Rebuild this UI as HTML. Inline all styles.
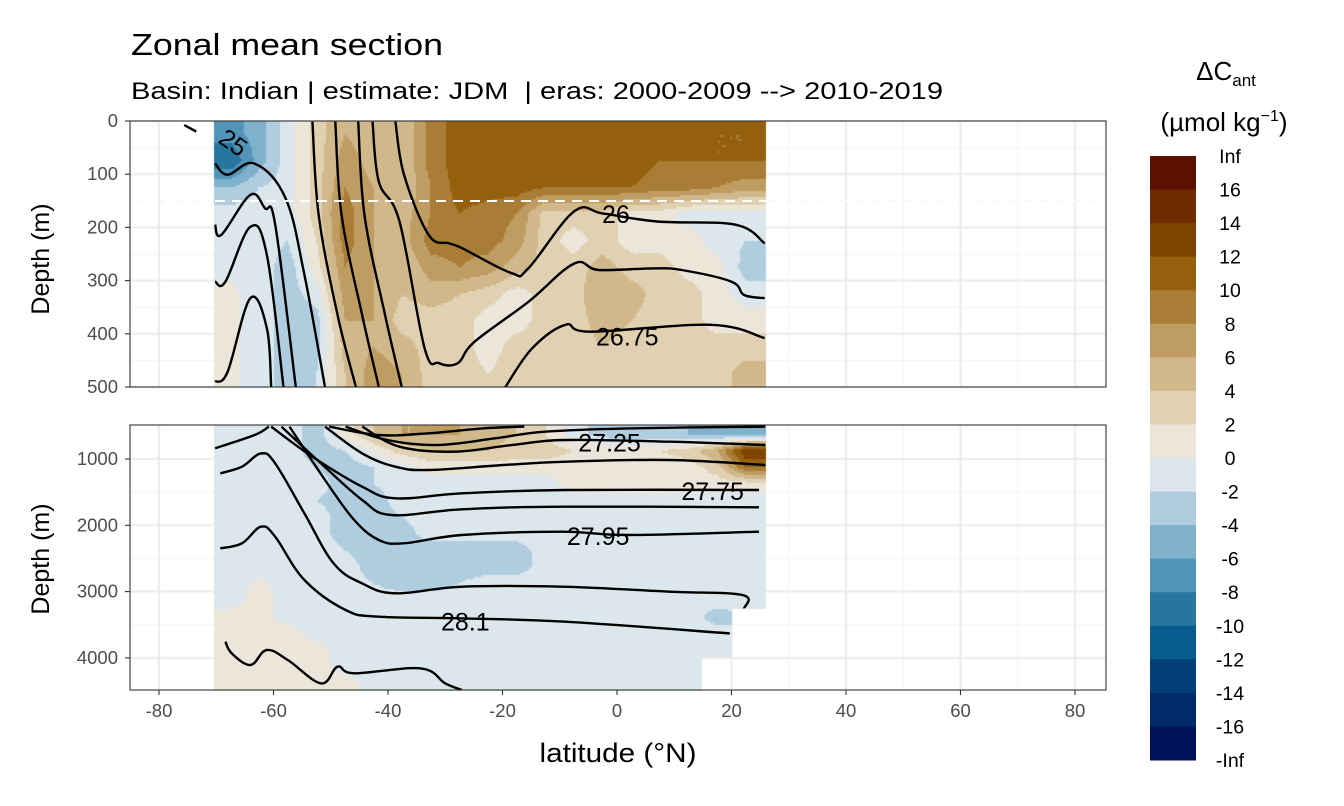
<!DOCTYPE html>
<html><head><meta charset="utf-8">
<style>
html,body{margin:0;padding:0;background:#fff;}
#wrap{position:relative;width:1344px;height:806px;overflow:hidden;font-family:"Liberation Sans",sans-serif;}
#heat{position:absolute;left:0;top:0;}
#svg{position:absolute;left:0;top:0;}
</style></head>
<body>
<div id="wrap">
<canvas id="heat" width="1344" height="806"></canvas>
<svg id="svg" width="1344" height="806" xmlns="http://www.w3.org/2000/svg">
  <defs>
    <clipPath id="clipTop"><rect x="130" y="121" width="976" height="266"/></clipPath>
    <clipPath id="clipBot"><rect x="130" y="425" width="976" height="265"/></clipPath>
  </defs>
  <text x="131" y="55" font-size="31" textLength="312" lengthAdjust="spacingAndGlyphs" fill="#000">Zonal mean section</text>
  <text x="131" y="99" font-size="24" textLength="812" lengthAdjust="spacingAndGlyphs" fill="#000" xml:space="preserve">Basin: Indian | estimate: JDM  | eras: 2000-2009 --&gt; 2010-2019</text>
  <g id="contTop" clip-path="url(#clipTop)"></g>
  <g id="contBot" clip-path="url(#clipBot)"></g>
  <line x1="130" x2="1106" y1="201" y2="201" stroke="#fff" stroke-width="2" stroke-dasharray="10,7"/>
  <rect x="130" y="121" width="976" height="266" fill="none" stroke="#333" stroke-width="1.1"/>
  <rect x="130" y="425" width="976" height="265" fill="none" stroke="#333" stroke-width="1.1"/>
  <g id="axes"></g>
  <text transform="translate(49,259) rotate(-90)" text-anchor="middle" font-size="25">Depth (m)</text>
  <text transform="translate(49,559) rotate(-90)" text-anchor="middle" font-size="25">Depth (m)</text>
  <text x="618" y="762" text-anchor="middle" font-size="27" textLength="157" lengthAdjust="spacingAndGlyphs">latitude (°N)</text>
  <text x="1226" y="80" text-anchor="middle" font-size="26">ΔC<tspan font-size="17" dy="6">ant</tspan></text>
  <text x="1224" y="131" text-anchor="middle" font-size="26">(µmol kg<tspan font-size="16" dy="-10">−1</tspan><tspan dy="10">)</tspan></text>
  <g id="legend"></g>
</svg>
</div>
<script>
// ---- data ----
const colCenters = [-67.5,-62.5,-57.5,-52.5,-47.5,-42.5,-37.5,-32.5,-27.5,-22.5,-17.5,-12.5,-7.5,-2.5,2.5,7.5,12.5,17.5,22.5];
const topDepths = [25,75,125,175,225,275,325,375,425,475];
const botDepths = [625,875,1125,1375,1625,1875,2125,2375,2625,2875,3125,3375,3625,3875,4125,4375];
const topCols = [
 [-7,-10,-4,-1,-1,-0.5,0.5,0.5,0.5,0.5],
 [-5,-5,-2,-1,-1,-1,-1,-1,-1,-1],
 [-1,-1,-1,-1,-2,-3,-3,-3,-3,-3],
 [3,3,3,3,2,1,-1,-3,-3,-2],
 [6,7,8,9,9,8,7,6,5,4],
 [5,5,6,6,6,6,6,6,6,7],
 [4,4,4,5,5,4,4,3,5,6],
 [9,9,8,8,9,7,5,3,3,3],
 [11,11,11,10,9,8,4,3,3,3],
 [11,11,11,9,9,7,3,1,1,2],
 [11,11,11,8,7,5,1,1,3,3],
 [11,11,10,3,3,3,3,3,3,3],
 [11,11,10,3,1,3,3,3,3,3],
 [11,11,10,3,3,5,6,5,4,4],
 [11,11,10,1,1,3,5,4,3,3],
 [11,10,9,1,1,3,3,3,3,3],
 [11,10,9,-1,1,1,3,3,3,3],
 [10,10,8,-1,-1,1,1,1,3,3],
 [10,10,7,-1,-2,-3,-1,1,3,5]
];
const botRows = [
 [-1,-1,-1,-3,1,4,6,6,6,5,4,2,-1,-3,-4,-4,-4,-5,-5],
 [-1,-1,-1,-3,-2,0.5,3,4,4,4,3,3,2,2,2,2,3,6,14],
 [-1,-1,-1,-2,-3,-2,-1,1,1,1,1,1,1,1,1,1,1,3,10],
 [-1,-1,-1,-1,-3,-2,-1,-1,-1,-1,-1,-1,1,1,1,1,1,1,1],
 [-1,-1,-1,-2,-3,-3,-1,-1,-1,-1,-1,-1,-1,-1,-1,-1,-1,-1,-1],
 [-1,-1,-1,-1,-3,-3,-2,-1,-1,-1,-1,-1,-1,-1,-1,-1,-1,-1,-1],
 [-1,-1,-1,-1,-3,-3,-3,-1,-1,-1,-1,-1,-1,-1,-1,-1,-1,-1,-1],
 [-1,-1,-1,-1,-2,-3,-3,-3,-3,-3,-3,-1,-1,-1,-1,-1,-1,-1,-1],
 [-1,-1,-1,-1,-1,-3,-3,-3,-3,-3,-3,-1,-1,-1,-1,-1,-1,-1,-1],
 [-1,0.5,-1,-1,-1,-2,-3,-3,-2,-1,-1,-1,-1,-1,-1,-1,-1,-1,-1],
 [-1,1,-1,-1,-1,-1,-1,-1,-1,-1,-1,-1,-1,-1,-1,-1,-1,-1,-1],
 [1,1,-1,-1,-1,-1,-1,-1,-1,-1,-1,-1,-1,-1,-1,-1,-1,-3,NaN],
 [1,1,1,-1,-1,-1,-1,-1,-1,-1,-1,-1,-1,-1,-1,-1,-1,-1,NaN],
 [1,1,1,1,-1,-1,-1,-1,-1,-1,-1,-1,-1,-1,-1,-1,-1,-1,NaN],
 [1,1,1,1,-1,-1,-1,-1,-1,-1,-1,-1,-1,-1,-1,-1,-1,NaN,NaN],
 [1,1,1,1,1,-1,-1,-1,-1,-1,-1,-1,-1,-1,-1,-1,-1,NaN,NaN]
];
const latMin = -70.4, latMax = 25.8;
const binColors = ["#5c1000","#6e2c00","#7f4500","#94600e","#a97d35","#bf9d62","#d1b88a","#e0d1b2","#ebe5da","#dbe7ec","#b0cde0","#80b1cc","#5294b8","#26769f","#085b8e","#023f7a","#022a6a","#00125c"];
const legendLabels = ["Inf","16","14","12","10","8","6","4","2","0","-2","-4","-6","-8","-10","-12","-14","-16","-Inf"];
const xTicks = [-80,-60,-40,-20,0,20,40,60,80];
const topTicks = [0,100,200,300,400,500];
const botTicks = [1000,2000,3000,4000];
const topLinesLat = [
 [-75.6,-73.5],
 [-70.2,-68.0,-64.05,-61.15,-60.4],
 [-70.2,-68.4,-64.05,-61.15,-58.25],
 [-70.2,-69.1,-64.05,-61.5,-59.7,-56.1],
 [-70.2,-68.0,-63.3,-57.9,-54.6,-51.0],
 [-53.2,-52.1,-48.8,-45.6],
 [-49.2,-48.1,-44.5,-41.6],
 [-45.2,-44.1,-40.5,-37.6],
 [-42.7,-41.6,-38.0,-33.6,-31.1,-27.8,-24.9,-15.5,-7.5,-3.2,6.3,11.3,20.0,22.2,25.8],
 [-38.7,-37.2,-32.9,-29.3,-27.1,-18.4,-15.5,-7.5,-2.4,7.0,20.7,25.8],
 [-19.5,-14.8,-9.0,-4.6,16.4,25.8]
];
const topLinesDepth = [
 [7.5,20],
 [490,471,333,390,500],
 [302,302,199,252,500],
 [195,214,139,164,195,500],
 [80,101,80,145,289,500],
 [1.3,177,365,500],
 [1.3,177,365,500],
 [1.3,177,365,500],
 [1.3,114,189,427,455,455,415,340,268,280,277,280,302,327,333],
 [1.3,101,214,230,239,286,277,170,174,189,195,230],
 [500,427,383,396,383,408]
];
const botLinesLat = [
 [-60.4,-53.2,-44.5,-38.7,-27.1,-9.0,24.8],
 [-58.6,-51.7,-44.5,-39.4,-27.1,-9.0,24.8],
 [-57.2,-51.0,-45.9,-41.6,-37.2,-27.1,-9.7,1.9,24.8],
 [-69.3,-65.5,-62.2,-59.7,-54.6,-49.5,-44.5,-38.7,-27.1,-9.7,9.2,21.9,22.2],
 [-69.3,-65.5,-62.2,-59.7,-54.6,-47.4,-41.6,-27.1,-9.0,19.7],
 [-68.4,-67.3,-64.0,-61.2,-57.5,-51.7,-48.8,-45.9,-34.3,-30.0,-27.1],
 [-70.2,-63.3,-60.8],
 [-50.3,-41.6,-32.9,-23.5,-16.2],
 [-47.4,-40.1,-31.4,-21.3,-12.6,1.9,25.9],
 [-44.5,-38.0,-28.5,-18.4,-9.0,9.2,25.9],
 [-51.0,-44.5,-38.7,-32.9,-19.8,-9.0,9.2,25.9]
];
const botLinesDepth = [
 [512,965,1418,1593,1518,1468,1468],
 [512,1066,1619,1845,1759,1719,1729],
 [512,1317,1920,2222,2272,2146,2096,2146,2096],
 [1216,1116,915,1066,1820,2574,2876,3026,2926,2926,3001,3052,3253],
 [2348,2272,2021,2172,2825,3278,3378,3404,3454,3630],
 [3755,3931,4107,3881,4032,4384,4133,4233,4158,4384,4484],
 [839,638,512],
 [512,638,613,538,512],
 [512,714,789,688,588,538,512],
 [512,814,890,789,714,739,789],
 [512,915,1116,1166,1091,1040,1015,1091]
];
const topLabels = [["26",-0.2,175,0],["26.75",1.8,405,0],["25",-67,40,35]];
const botLabels = [["27.25",-1.3,750,0],["27.75",16.7,1480,0],["27.95",-3.3,2160,0],["28.1",-26.5,3450,0]];

// ---- scales ----
const X = lat => 617 + 5.725*lat;
const YT = d => 121 + d*0.532;
const YB = d => 459 + (d-1000)*0.0663;
const NS = "http://www.w3.org/2000/svg";
function mk(tag, attrs, parent){ const e=document.createElementNS(NS,tag); for(const k in attrs) e.setAttribute(k,attrs[k]); parent.appendChild(e); return e; }
function colorOf(v){ if(isNaN(v)) return null; if(v>=16) return binColors[0]; let k=Math.floor(v/2); let i=8-k; if(i<0)i=0; if(i>17)i=17; return binColors[i]; }

function interp(getV, rowC, colC, lat, d){
  function frac(arr, v){ if(v<=arr[0]) return [0,0,0]; if(v>=arr[arr.length-1]) return [arr.length-1,arr.length-1,0];
    for(let i=0;i<arr.length-1;i++){ if(v>=arr[i]&&v<=arr[i+1]) return [i,i+1,(v-arr[i])/(arr[i+1]-arr[i])]; } }
  const [c0,c1,fc]=frac(colC,lat), [r0,r1,fr]=frac(rowC,d);
  const nr = fr<0.5?r0:r1, nc = fc<0.5?c0:c1;
  if(isNaN(getV(nr,nc))) return NaN;
  const pts=[[r0,c0,(1-fr)*(1-fc)],[r0,c1,(1-fr)*fc],[r1,c0,fr*(1-fc)],[r1,c1,fr*fc]];
  let s=0,w=0; for(const [r,c,ww] of pts){ const v=getV(r,c); if(!isNaN(v)){s+=v*ww; w+=ww;} }
  return w>0? s/w : NaN;
}

// ---- grid + heatmap (canvas) ----
const ctx=document.getElementById('heat').getContext('2d');
function line(x1,y1,x2,y2,col,w){ctx.strokeStyle=col;ctx.lineWidth=w;ctx.beginPath();ctx.moveTo(x1,y1);ctx.lineTo(x2,y2);ctx.stroke();}
function panelGrid(y0,y1,ys,minor){
  for(let l=-70;l<=70;l+=20) line(X(l),y0,X(l),y1,'#f2f2f2',1);
  for(const y of minor) line(130,y,1106,y,'#f2f2f2',1);
  for(const l of xTicks) line(X(l),y0,X(l),y1,'#ebebeb',2);
  for(const y of ys) line(130,y,1106,y,'#ebebeb',2);
}
panelGrid(121,387,topTicks.map(YT),[50,150,250,350,450].map(YT));
panelGrid(425,690,botTicks.map(YB),[1500,2500,3500].map(YB));
const step=2;
for(let px=Math.round(X(latMin)); px<X(latMax); px+=step){
  const lat=(px+step/2-617)/5.725;
  for(let py=121; py<387; py+=step){
    const d=(py+step/2-121)/0.532;
    const v=interp((r,c)=>topCols[c][r], topDepths, colCenters, lat, d);
    const col=colorOf(v); if(col){ ctx.fillStyle=col; ctx.fillRect(px,py,step,step); }
  }
  for(let py=425; py<690; py+=step){
    const d=1000+(py+step/2-459)/0.0663;
    const v=interp((r,c)=>botRows[r][c], botDepths, colCenters, lat, d);
    const col=colorOf(v); if(col){ ctx.fillStyle=col; ctx.fillRect(px,py,step,step); }
  }
}

// ---- contours (smoothed through the data vertices) ----
function smoothPath(pts){
  if(pts.length<3) return 'M'+pts.map(p=>p[0].toFixed(1)+','+p[1].toFixed(1)).join(' L');
  let d='M'+pts[0][0].toFixed(1)+','+pts[0][1].toFixed(1);
  for(let i=0;i<pts.length-1;i++){
    const p0=pts[Math.max(i-1,0)], p1=pts[i], p2=pts[i+1], p3=pts[Math.min(i+2,pts.length-1)];
    const t=0.18;
    const c1=[p1[0]+(p2[0]-p0[0])*t, p1[1]+(p2[1]-p0[1])*t];
    const c2=[p2[0]-(p3[0]-p1[0])*t, p2[1]-(p3[1]-p1[1])*t];
    d+=' C'+c1[0].toFixed(1)+','+c1[1].toFixed(1)+' '+c2[0].toFixed(1)+','+c2[1].toFixed(1)+' '+p2[0].toFixed(1)+','+p2[1].toFixed(1);
  }
  return d;
}
function drawLines(gid, lats, deps, Y){
  const g=document.getElementById(gid);
  lats.forEach((la,i)=>{
    const pts=la.map((l,j)=>[X(l),Y(deps[i][j])]);
    const p=mk('path',{d:smoothPath(pts),fill:'none',stroke:'#000','stroke-width':2.4,'stroke-linejoin':'round'},g);
    
    
  });
}
drawLines('contTop',topLinesLat,topLinesDepth,YT);
drawLines('contBot',botLinesLat,botLinesDepth,YB);
function drawLabels(gid, labels, Y){
  const g=document.getElementById(gid);
  labels.forEach(([t,l,d,rot])=>{
    const x=X(l), y=Y(d);
    const e=mk('text',{x:x,y:y+9,'text-anchor':'middle','font-size':25,fill:'#000',transform:'rotate('+rot+' '+x+' '+y+')'},g);
    e.textContent=t;
    
    
  });
}
drawLabels('contTop',topLabels,YT);
drawLabels('contBot',botLabels,YB);

// ---- axes ----
const ax=document.getElementById('axes');
function tick(x1,y1,x2,y2){ const t=mk('line',{x1,y1,x2,y2,stroke:'#333','stroke-width':1.1},ax);   }
function lbl(x,y,txt,anchor){ const t=mk('text',{x,y,'text-anchor':anchor,'font-size':18.5,fill:'#4d4d4d'},ax); t.textContent=txt;   }
topTicks.forEach(v=>{ tick(125,YT(v),130,YT(v)); lbl(118,YT(v)+6,String(v),'end'); });
botTicks.forEach(v=>{ tick(125,YB(v),130,YB(v)); lbl(118,YB(v)+6,String(v),'end'); });
xTicks.forEach(v=>{ tick(X(v),690,X(v),695); lbl(X(v),717,String(v),'middle'); });

// ---- legend ----
const lg=document.getElementById('legend');
const bx=1150,bw=46,by=156,bh=(760-156)/18;
binColors.forEach((c,i)=>{
  const r=mk('rect',{x:bx,y:by+i*bh,width:bw,height:bh+0.5,fill:c},lg);
  
  
});
legendLabels.forEach((t,i)=>{
  const e=mk('text',{x:1230,y:by+i*bh+7,'text-anchor':'middle','font-size':19.5,fill:'#000'},lg);
  e.textContent=t;
  
  
});
</script>
</body></html>
